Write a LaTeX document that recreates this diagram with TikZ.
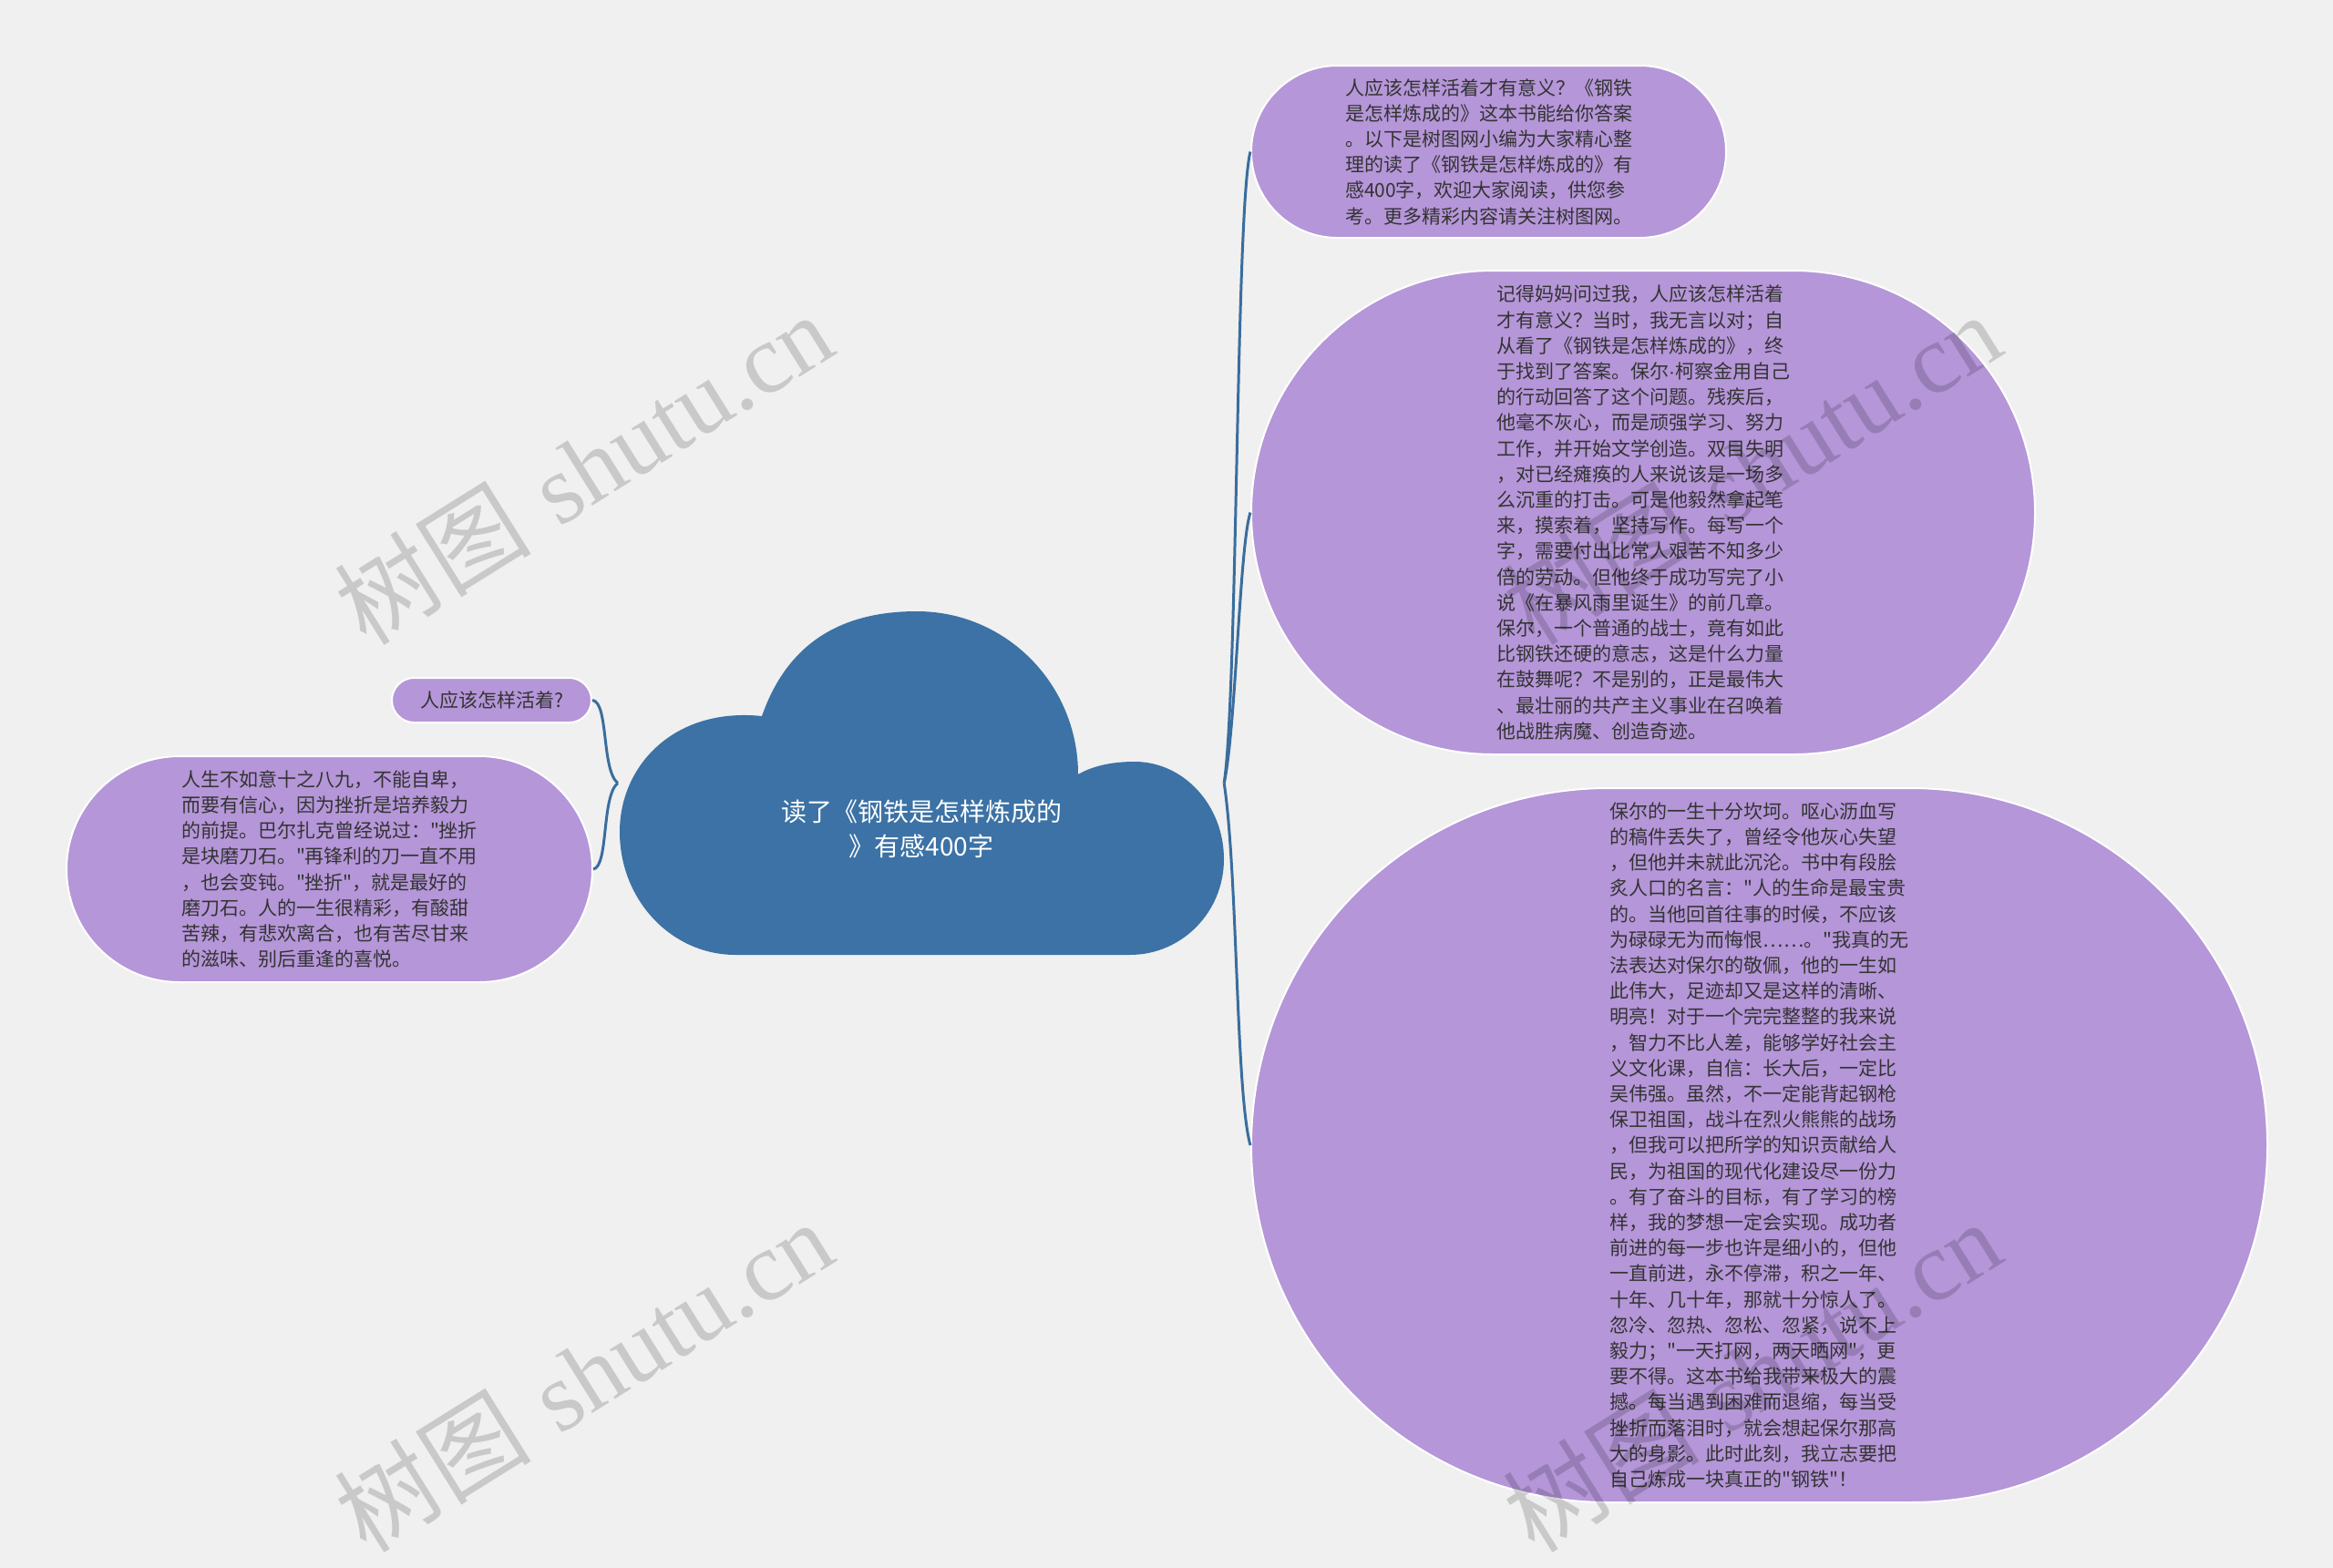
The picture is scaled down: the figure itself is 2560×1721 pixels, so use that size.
\documentclass[tikz,border=0pt]{standalone}
\usepackage{fontspec}
\newfontfamily\cjk{Noto Sans CJK SC}
\newfontfamily\wmlat{Liberation Serif}
\newfontfamily\latsans{Liberation Sans}
\definecolor{bg}{HTML}{F0F0F0}
\definecolor{lav}{HTML}{B596D8}
\definecolor{cloudblue}{HTML}{3C72A5}
\definecolor{linkblue}{HTML}{3A6D9E}
\definecolor{txt}{HTML}{333333}
\begin{document}
\begin{tikzpicture}[x=1pt,y=-1pt,
  leaf/.style={rectangle, fill=lav, draw=white, line width=2pt, inner sep=0pt,
    align=left, text=txt, font=\cjk\fontsize{21}{28.2}\selectfont},
  link/.style={draw=linkblue, line width=3pt},
  wm/.style={text=black, text opacity=0.16, rotate=32,
    font=\fontsize{108}{120}\selectfont}]
\fill[bg] (0,0) rectangle (2560,1721);
\useasboundingbox (0,0) rectangle (2560,1721);

% cloud
\fill[cloudblue] (836,786)
  .. controls (866,700) and (930,671) .. (1006,671)
  .. controls (1104,671) and (1183,751) .. (1183,850)
  .. controls (1200,840) and (1222,836) .. (1245,836)
  .. controls (1299,836) and (1343,884) .. (1343,943)
  .. controls (1343,1001) and (1297,1048) .. (1240,1048)
  -- (807,1048)
  .. controls (737,1048) and (680,988) .. (680,913)
  .. controls (680,840) and (740,776) .. (836,786) -- cycle;
\node[rectangle, minimum width=665pt, minimum height=377pt, inner sep=0pt] (root) at (1010.5,859.5) {};
\node[text=white, align=center, font=\cjk\fontsize{28}{38}\selectfont] (roottext) at (1011,910)
  {读了《钢铁是怎样炼成的\\》有感400字};

% right nodes
\node[leaf, minimum width=521pt, minimum height=189pt, rounded corners=94.5pt] (n1) at (1633.5,166.5)
{人应该怎样活着才有意义？《钢铁\\
是怎样炼成的》这本书能给你答案\\
。以下是树图网小编为大家精心整\\
理的读了《钢铁是怎样炼成的》有\\
感400字，欢迎大家阅读，供您参\\
考。更多精彩内容请关注树图网。};

\node[leaf, minimum width=860pt, minimum height=531pt, rounded corners=265.5pt] (n2) at (1803,562.5)
{记得妈妈问过我，人应该怎样活着\\
才有意义？当时，我无言以对；自\\
从看了《钢铁是怎样炼成的》，终\\
于找到了答案。保尔{\latsans ·}柯察金用自己\\
的行动回答了这个问题。残疾后，\\
他毫不灰心，而是顽强学习、努力\\
工作，并开始文学创造。双目失明\\
，对已经瘫痪的人来说该是一场多\\
么沉重的打击。可是他毅然拿起笔\\
来，摸索着，坚持写作。每写一个\\
字，需要付出比常人艰苦不知多少\\
倍的劳动。但他终于成功写完了小\\
说《在暴风雨里诞生》的前几章。\\
保尔，一个普通的战士，竟有如此\\
比钢铁还硬的意志，这是什么力量\\
在鼓舞呢？不是别的，正是最伟大\\
、最壮丽的共产主义事业在召唤着\\
他战胜病魔、创造奇迹。};

\node[leaf, minimum width=1115pt, minimum height=784pt, rounded corners=392pt] (n3) at (1930.5,1257)
{保尔的一生十分坎坷。呕心沥血写\\
的稿件丢失了，曾经令他灰心失望\\
，但他并未就此沉沦。书中有段脍\\
炙人口的名言："人的生命是最宝贵\\
的。当他回首往事的时候，不应该\\
为碌碌无为而悔恨……。"我真的无\\
法表达对保尔的敬佩，他的一生如\\
此伟大，足迹却又是这样的清晰、\\
明亮！对于一个完完整整的我来说\\
，智力不比人差，能够学好社会主\\
义文化课，自信：长大后，一定比\\
吴伟强。虽然，不一定能背起钢枪\\
保卫祖国，战斗在烈火熊熊的战场\\
，但我可以把所学的知识贡献给人\\
民，为祖国的现代化建设尽一份力\\
。有了奋斗的目标，有了学习的榜\\
样，我的梦想一定会实现。成功者\\
前进的每一步也许是细小的，但他\\
一直前进，永不停滞，积之一年、\\
十年、几十年，那就十分惊人了。\\
忽冷、忽热、忽松、忽紧，说不上\\
毅力；"一天打网，两天晒网"，更\\
要不得。这本书给我带来极大的震\\
撼。每当遇到困难而退缩，每当受\\
挫折而落泪时，就会想起保尔那高\\
大的身影。此时此刻，我立志要把\\
自己炼成一块真正的"钢铁"！};

% left nodes
\node[leaf, minimum width=219pt, minimum height=49pt, rounded corners=24.5pt] (s1) at (539.5,768.5)
{人应该怎样活着?};

\node[leaf, minimum width=577pt, minimum height=248pt, rounded corners=124pt] (s2) at (361.5,954)
{人生不如意十之八九，不能自卑，\\
而要有信心，因为挫折是培养毅力\\
的前提。巴尔扎克曾经说过："挫折\\
是块磨刀石。"再锋利的刀一直不用\\
，也会变钝。"挫折"，就是最好的\\
磨刀石。人的一生很精彩，有酸甜\\
苦辣，有悲欢离合，也有苦尽甘来\\
的滋味、别后重逢的喜悦。};

% connectors
\draw[link] (root.east) .. controls +(15,-100) and +(-16,63) .. (n1.west);
\draw[link] (root.east) .. controls +(13,-60) and +(-12,37) .. (n2.west);
\draw[link] (root.east) .. controls +(15,100) and +(-16,-57) .. (n3.west);
\draw[link] (root.west) .. controls +(-18,-15) and +(18,2) .. (s1.east);
\draw[link] (root.west) .. controls +(-18,15) and +(17,-3) .. (s2.east);

% watermarks
\node[wm] (wm1) at (640,514) {{\cjk 树图} \wmlat shutu.cn};
\node[wm] (wm2) at (640,1510) {{\cjk 树图} \wmlat shutu.cn};
\node[wm] (wm3) at (1922,514) {{\cjk 树图} \wmlat shutu.cn};
\node[wm] (wm4) at (1922,1510) {{\cjk 树图} \wmlat shutu.cn};
\end{tikzpicture}
\end{document}
